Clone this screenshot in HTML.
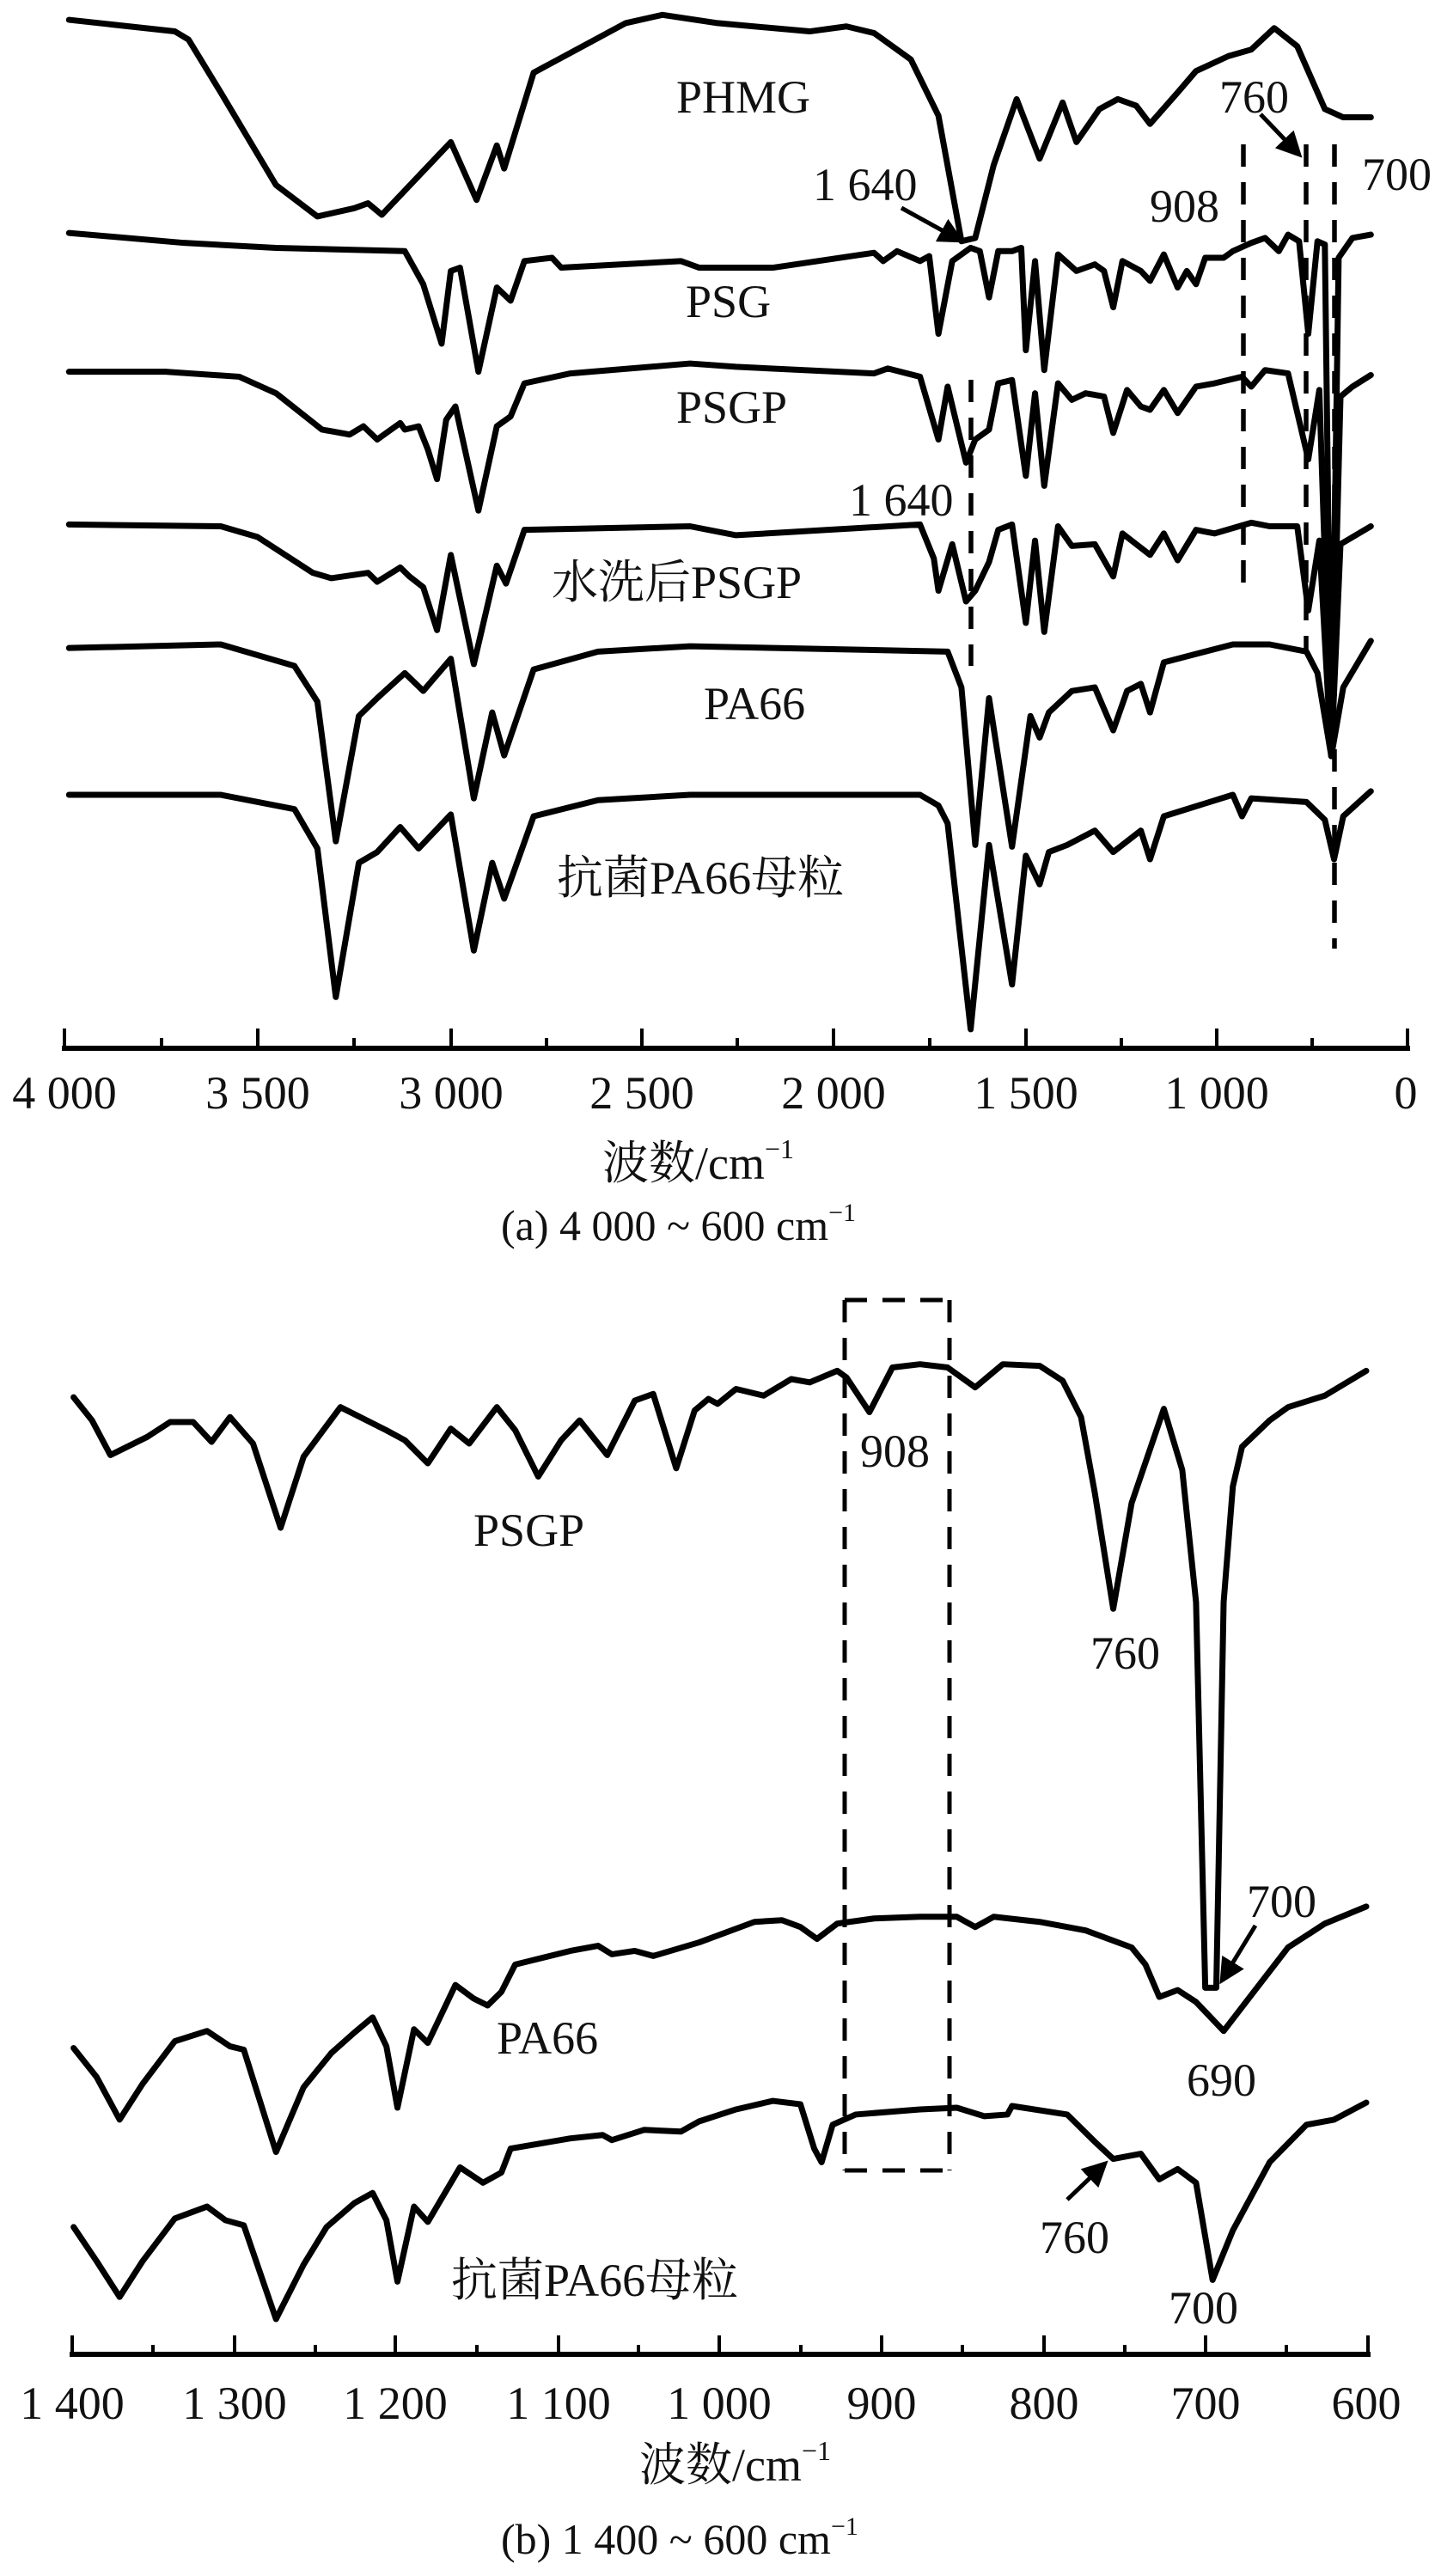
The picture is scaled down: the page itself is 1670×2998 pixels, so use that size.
<!DOCTYPE html>
<html><head><meta charset="utf-8"><style>
html,body{margin:0;padding:0;background:#fff}
svg{display:block}
text{font-family:"Liberation Serif","Noto Serif CJK SC",serif;fill:#111}
.c{fill:none;stroke:#000;stroke-width:7;stroke-linejoin:round;stroke-linecap:round}
.d{fill:none;stroke:#000;stroke-width:5;stroke-dasharray:26 18}
</style></head><body>
<svg width="1670" height="2998" viewBox="0 0 1670 2998" xmlns="http://www.w3.org/2000/svg">
<defs><marker id="ah" markerWidth="6" markerHeight="6" refX="5" refY="3" orient="auto" markerUnits="strokeWidth"><path d="M0,0 L6,3 L0,6 Z" fill="#000"/></marker></defs>

<g transform="scale(1.0707,0.3846)">
<polyline class="c" vector-effect="non-scaling-stroke" points="75,60 190,95 205,120 240,280 300,560 345,655 385,630 400,615 415,650 490,430 518,605 540,440 548,510 580,220 620,160 680,70 720,45 780,70 880,95 920,80 950,100 990,180 1020,350 1045,730 1060,720 1080,500 1105,300 1130,480 1155,310 1170,430 1195,330 1215,300 1235,320 1250,375 1280,280 1300,215 1335,170 1360,150 1385,85 1410,140 1440,330 1460,355 1490,355"/>
<polyline class="c" vector-effect="non-scaling-stroke" points="75,705 200,735 300,750 440,760 460,860 480,1040 490,820 500,810 520,1125 540,870 555,910 570,790 600,780 610,810 740,790 760,810 840,810 950,765 960,790 975,760 1000,790 1010,775 1020,1010 1035,790 1055,750 1065,760 1075,900 1085,760 1100,760 1110,750 1115,1060 1125,790 1135,1120 1150,770 1170,820 1190,800 1200,820 1210,930 1220,790 1240,820 1250,850 1265,770 1280,870 1290,820 1300,860 1310,780 1330,780 1340,760 1360,735 1375,720 1390,760 1400,710 1412,730 1422,1010 1432,730 1440,740 1447,2288 1455,780 1470,720 1490,710"/>
<polyline class="c" vector-effect="non-scaling-stroke" points="75,1125 180,1125 260,1140 300,1190 350,1300 380,1315 395,1290 410,1330 435,1280 440,1300 455,1290 465,1360 475,1450 485,1270 495,1230 520,1545 540,1290 555,1260 570,1160 620,1130 750,1100 800,1110 950,1130 965,1115 1000,1140 1020,1330 1030,1170 1050,1400 1060,1330 1075,1300 1085,1160 1100,1150 1115,1440 1125,1190 1135,1470 1150,1160 1165,1210 1180,1190 1200,1200 1210,1310 1225,1180 1240,1230 1250,1240 1265,1180 1280,1250 1300,1170 1320,1160 1350,1140 1360,1170 1375,1120 1400,1130 1422,1390 1434,1180 1447,2288 1457,1200 1470,1170 1490,1135"/>
</g>
<g transform="translate(0,550) scale(1.0707,0.41667)">
<polyline class="c" vector-effect="non-scaling-stroke" points="75,145 240,150 280,180 340,280 360,295 400,280 410,305 435,265 445,290 460,320 475,440 490,230 515,535 540,260 550,310 570,160 750,150 800,175 1000,145 1015,240 1020,330 1035,200 1050,360 1060,330 1075,250 1085,160 1100,145 1115,420 1125,190 1135,445 1150,150 1165,205 1190,200 1210,290 1220,170 1240,210 1250,230 1265,170 1280,245 1300,160 1320,170 1360,140 1380,150 1410,150 1422,385 1434,190 1447,792 1457,200 1490,150"/>
<polyline class="c" vector-effect="non-scaling-stroke" points="75,490 240,480 320,540 345,640 365,1030 390,680 410,630 440,560 460,610 490,520 515,910 535,670 548,790 580,550 650,500 750,485 1030,500 1045,600 1060,1040 1075,630 1100,1045 1120,680 1130,740 1140,670 1165,610 1190,600 1210,720 1225,610 1240,590 1250,670 1265,530 1340,480 1380,480 1420,500 1432,560 1447,792 1460,600 1490,470"/>
<polyline class="c" vector-effect="non-scaling-stroke" points="75,900 240,900 320,940 345,1050 365,1465 390,1090 410,1060 435,990 455,1050 490,955 515,1335 535,1090 548,1190 580,960 650,915 750,900 1000,900 1020,930 1030,980 1055,1555 1075,1040 1100,1430 1115,1070 1130,1150 1140,1060 1160,1040 1190,1000 1210,1060 1225,1030 1240,1000 1250,1080 1265,960 1340,900 1350,960 1360,910 1420,920 1440,970 1450,1080 1460,960 1490,890"/>
</g>
<g class="d" style="stroke-width:5.5">
<line x1="1447" y1="168" x2="1447" y2="696"/>
<line x1="1520" y1="168" x2="1520" y2="760"/>
<line x1="1553" y1="168" x2="1553" y2="1104"/>
<line x1="1130" y1="442" x2="1130" y2="775"/>
</g>
<text x="787" y="131" font-size="54">PHMG</text>
<text x="946" y="233" font-size="54">1 640</text>
<line x1="1049" y1="242" x2="1118" y2="280" stroke="#000" stroke-width="5" marker-end="url(#ah)"/>
<text x="1338" y="258" font-size="54">908</text>
<text x="1419" y="131" font-size="54">760</text>
<line x1="1467" y1="133" x2="1512" y2="180" stroke="#000" stroke-width="5" marker-end="url(#ah)"/>
<text x="1585" y="221" font-size="54">700</text>
<text x="798" y="369" font-size="54">PSG</text>
<text x="787" y="492" font-size="54">PSGP</text>
<text x="988" y="600" font-size="54">1 640</text>
<text x="642" y="696" font-size="54">水洗后PSGP</text>
<text x="819" y="837" font-size="54">PA66</text>
<text x="648" y="1040" font-size="54">抗菌PA66母粒</text>
<line x1="72" y1="1220" x2="1641" y2="1220" stroke="#000" stroke-width="6"/>
<g stroke="#000" stroke-width="4">
<line x1="75" y1="1197" x2="75" y2="1220"/><line x1="300" y1="1197" x2="300" y2="1220"/><line x1="525" y1="1197" x2="525" y2="1220"/><line x1="747" y1="1197" x2="747" y2="1220"/><line x1="970" y1="1197" x2="970" y2="1220"/><line x1="1194" y1="1197" x2="1194" y2="1220"/><line x1="1416" y1="1197" x2="1416" y2="1220"/><line x1="1638" y1="1197" x2="1638" y2="1220"/>
<line x1="188" y1="1208" x2="188" y2="1220"/><line x1="412" y1="1208" x2="412" y2="1220"/><line x1="636" y1="1208" x2="636" y2="1220"/><line x1="858" y1="1208" x2="858" y2="1220"/><line x1="1082" y1="1208" x2="1082" y2="1220"/><line x1="1305" y1="1208" x2="1305" y2="1220"/><line x1="1527" y1="1208" x2="1527" y2="1220"/>
</g>
<g font-size="54" text-anchor="middle">
<text x="75" y="1290">4 000</text><text x="300" y="1290">3 500</text><text x="525" y="1290">3 000</text><text x="747" y="1290">2 500</text><text x="970" y="1290">2 000</text><text x="1194" y="1290">1 500</text><text x="1416" y="1290">1 000</text><text x="1636" y="1290">0</text>
</g>
<text x="701" y="1372" font-size="54">波数/cm<tspan font-size="32" dy="-24">−1</tspan></text>
<text x="583" y="1443" font-size="50">(a) 4 000 ~ 600 cm<tspan font-size="30" dy="-22">−1</tspan></text>

<g transform="translate(0,1480) scale(1.0707,0.3846)">
<polyline class="c" vector-effect="non-scaling-stroke" points="80,380 100,450 120,555 160,500 185,455 210,455 230,515 250,440 275,520 305,775 330,560 370,410 420,480 440,510 465,580 490,475 510,520 540,410 560,480 585,620 610,510 630,450 660,555 690,390 710,370 735,595 755,420 770,385 780,400 800,355 830,375 860,325 880,335 910,300 920,320 945,425 970,290 1000,280 1030,290 1060,350 1090,280 1130,285 1155,330 1175,440 1190,670 1210,1020 1230,700 1265,415 1285,600 1300,1000 1310,2167 1322,2167 1330,1000 1340,650 1350,530 1380,450 1400,410 1440,375 1485,300"/>
</g>
<g transform="translate(0,2080) scale(1.0707,0.3968)">
<polyline class="c" vector-effect="non-scaling-stroke" points="80,765 105,850 130,975 155,870 190,745 225,715 250,760 265,770 300,1070 330,880 360,780 385,720 405,675 420,760 432,940 450,710 465,750 495,580 515,620 530,640 545,600 560,520 620,480 650,465 665,490 690,480 710,495 760,455 820,395 850,390 870,410 888,445 910,400 950,385 1000,380 1040,380 1060,410 1080,380 1130,395 1180,420 1230,470 1245,520 1260,615 1280,595 1300,630 1330,715 1360,610 1400,470 1440,400 1485,350"/>
<polyline class="c" vector-effect="non-scaling-stroke" points="80,1290 105,1390 130,1495 155,1390 190,1265 225,1230 245,1270 265,1285 300,1560 330,1400 355,1290 385,1220 405,1190 420,1270 432,1450 450,1230 465,1275 500,1115 525,1160 545,1130 555,1060 620,1030 655,1020 665,1035 700,1005 740,1010 760,980 800,945 840,920 870,930 885,1060 893,1100 905,990 930,960 1000,945 1040,940 1070,965 1095,960 1100,935 1160,960 1190,1040 1210,1090 1240,1075 1260,1150 1280,1120 1300,1160 1318,1445 1340,1300 1380,1100 1420,990 1450,975 1485,925"/>
</g>
<g class="d">
<line x1="983" y1="1513" x2="983" y2="2526"/>
<line x1="1105" y1="1513" x2="1105" y2="2526"/>
<line x1="983" y1="1513" x2="1105" y2="1513"/>
<line x1="983" y1="2526" x2="1105" y2="2526"/>
</g>
<text x="551" y="1799" font-size="54">PSGP</text>
<text x="1001" y="1707" font-size="54">908</text>
<text x="1269" y="1942" font-size="54">760</text>
<text x="1451" y="2231" font-size="54">700</text>
<line x1="1461" y1="2241" x2="1422" y2="2305" stroke="#000" stroke-width="5" marker-end="url(#ah)"/>
<text x="1381" y="2439" font-size="54">690</text>
<text x="578" y="2390" font-size="54">PA66</text>
<text x="1210" y="2622" font-size="54">760</text>
<line x1="1242" y1="2560" x2="1286" y2="2518" stroke="#000" stroke-width="5" marker-end="url(#ah)"/>
<text x="525" y="2672" font-size="54">抗菌PA66母粒</text>
<text x="1360" y="2704" font-size="54">700</text>
<line x1="81" y1="2740" x2="1595" y2="2740" stroke="#000" stroke-width="6"/>
<g stroke="#000" stroke-width="4">
<line x1="84" y1="2718" x2="84" y2="2740"/><line x1="273" y1="2718" x2="273" y2="2740"/><line x1="460" y1="2718" x2="460" y2="2740"/><line x1="650" y1="2718" x2="650" y2="2740"/><line x1="837" y1="2718" x2="837" y2="2740"/><line x1="1026" y1="2718" x2="1026" y2="2740"/><line x1="1215" y1="2718" x2="1215" y2="2740"/><line x1="1403" y1="2718" x2="1403" y2="2740"/><line x1="1592" y1="2718" x2="1592" y2="2740"/>
<line x1="178" y1="2729" x2="178" y2="2740"/><line x1="367" y1="2729" x2="367" y2="2740"/><line x1="555" y1="2729" x2="555" y2="2740"/><line x1="743" y1="2729" x2="743" y2="2740"/><line x1="932" y1="2729" x2="932" y2="2740"/><line x1="1120" y1="2729" x2="1120" y2="2740"/><line x1="1309" y1="2729" x2="1309" y2="2740"/><line x1="1497" y1="2729" x2="1497" y2="2740"/>
</g>
<g font-size="54" text-anchor="middle">
<text x="84" y="2815">1 400</text><text x="273" y="2815">1 300</text><text x="460" y="2815">1 200</text><text x="650" y="2815">1 100</text><text x="837" y="2815">1 000</text><text x="1026" y="2815">900</text><text x="1215" y="2815">800</text><text x="1403" y="2815">700</text><text x="1590" y="2815">600</text>
</g>
<text x="744" y="2887" font-size="54">波数/cm<tspan font-size="32" dy="-24">−1</tspan></text>
<text x="583" y="2972" font-size="50">(b) 1 400 ~ 600 cm<tspan font-size="30" dy="-22">−1</tspan></text>
</svg>
</body></html>
